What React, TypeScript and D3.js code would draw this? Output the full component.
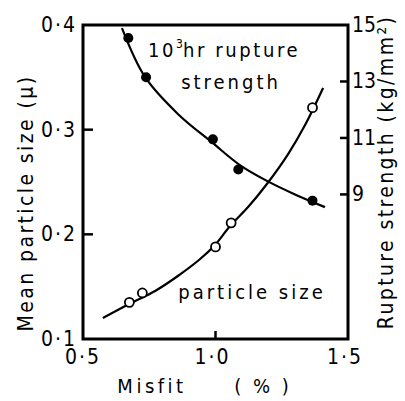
import { useEffect, useRef } from 'react';
import * as d3 from 'd3';

// misfit (%) vs. mean particle size (μ) — open circles
const sizeMisfit = [0.675, 0.724, 1.0, 1.059, 1.366];
const sizeValues = [0.135, 0.144, 0.188, 0.211, 0.321];
// misfit (%) vs. 10^3 hr rupture strength (kg/mm²) — filled dots
const strengthMisfit = [0.671, 0.738, 0.99, 1.086, 1.366];
const strengthValues = [14.54, 13.15, 10.95, 9.88, 8.78];

// fitted curves as drawn in the figure
const sizeCurveX = [0.575, 0.674, 0.772, 0.858, 0.942, 0.998, 1.055, 1.123, 1.194, 1.274, 1.338, 1.406];
const sizeCurveY = [0.12, 0.1334, 0.1459, 0.1602, 0.1764, 0.1898, 0.208, 0.2261, 0.2481, 0.2767, 0.3044, 0.3398];
const strCurveX = [0.647, 0.734, 0.858, 0.987, 1.092, 1.194, 1.3, 1.413];
const strCurveY = [14.89, 13.16, 11.85, 10.84, 10.04, 9.48, 9.0, 8.55];

const xTicks = [0.5, 1.0, 1.5];
const xTickLabels = ['0·5', '1·0', '1·5'];
const leftTicks = [0.1, 0.2, 0.3, 0.4];
const leftTickLabels = ['0·1', '0·2', '0·3', '0·4'];
const rightTicks = [9, 11, 13, 15];
const rightTickLabels = ['9', '11', '13', '15'];

const W = 405;
const H = 401;
const FONT = "'DejaVu Sans Condensed', 'Liberation Sans Narrow', 'Liberation Sans', sans-serif";

export default function App() {
  const svgRef = useRef<SVGSVGElement>(null);

  useEffect(() => {
    const svg = d3.select(svgRef.current);
    svg.selectAll('*').remove();

    const x = d3.scaleLinear().domain([0.5, 1.5]).range([83, 348]);
    const yL = d3.scaleLinear().domain([0.1, 0.4]).range([339, 25]);
    const yR = d3.scaleLinear().domain([3.88, 15]).range([339, 25]);

    const ink = '#000';

    // frame
    svg.append('rect')
      .attr('x', x(0.5)).attr('y', yL(0.4))
      .attr('width', x(1.5) - x(0.5)).attr('height', yL(0.1) - yL(0.4))
      .attr('fill', 'none').attr('stroke', ink).attr('stroke-width', 3);

    // ticks
    svg.selectAll('.lt').data(leftTicks.slice(1, 3)).join('line')
      .attr('x1', x(0.5)).attr('x2', x(0.5) + 10)
      .attr('y1', d => yL(d)).attr('y2', d => yL(d))
      .attr('stroke', ink).attr('stroke-width', 2.5);
    svg.selectAll('.rt').data(rightTicks.slice(0, 3)).join('line')
      .attr('x1', x(1.5)).attr('x2', x(1.5) - 8)
      .attr('y1', d => yR(d)).attr('y2', d => yR(d))
      .attr('stroke', ink).attr('stroke-width', 2.5);
    svg.append('line')
      .attr('x1', x(1.0)).attr('x2', x(1.0))
      .attr('y1', yL(0.1)).attr('y2', yL(0.1) - 8)
      .attr('stroke', ink).attr('stroke-width', 2.5);

    const label = (t: string, px: number, py: number, size: number, anchor = 'middle', spacing = 0) =>
      svg.append('text')
        .attr('x', px).attr('y', py)
        .attr('text-anchor', anchor)
        .attr('font-family', FONT)
        .attr('font-size', size)
        .attr('letter-spacing', spacing)
        .attr('fill', ink)
        .text(t);

    leftTicks.forEach((v, i) => label(leftTickLabels[i], x(0.5) - 6, yL(v) + 7, 21, 'end', 2));
    rightTicks.forEach((v, i) => label(rightTickLabels[i], x(1.5) + 4, yR(v) + 7, 21, 'start'));
    xTicks.forEach((v, i) => label(xTickLabels[i], x(v) - (i === 0 ? 0 : 3), 364, 21, 'middle', 2));

    label('Misfit', 152, 393, 20, 'middle', 3.5);
    label('( % )', 263, 393, 20, 'middle', 3);

    svg.append('text')
      .attr('transform', 'translate(33,203) rotate(-90)')
      .attr('text-anchor', 'middle')
      .attr('font-family', FONT).attr('font-size', 21).attr('letter-spacing', 2.4)
      .text('Mean particle size  (μ)');
    svg.append('text')
      .attr('transform', 'translate(393,172) rotate(-90)')
      .attr('text-anchor', 'middle')
      .attr('font-family', FONT).attr('font-size', 21).attr('letter-spacing', 2.4)
      .text('Rupture  strength (kg/mm²)');

    // annotations
    const t1 = svg.append('text')
      .attr('x', 148).attr('y', 57)
      .attr('font-family', FONT).attr('font-size', 20).attr('letter-spacing', 2.6);
    t1.append('tspan').text('10');
    t1.append('tspan').attr('dy', -9).attr('font-size', 12).attr('letter-spacing', 0).text('3');
    t1.append('tspan').attr('dy', 9).text('hr rupture');
    label('strength', 231, 89, 20, 'middle', 3);
    label('particle size', 252, 299, 20, 'middle', 3);

    // curves
    const line = d3.line<[number, number]>().curve(d3.curveCatmullRom.alpha(0.5));
    const sizePts = sizeCurveX.map((v, i) => [x(v), yL(sizeCurveY[i])] as [number, number]);
    const strPts = strCurveX.map((v, i) => [x(v), yR(strCurveY[i])] as [number, number]);
    svg.append('path').attr('d', line(sizePts)).attr('fill', 'none').attr('stroke', ink).attr('stroke-width', 2.2);
    svg.append('path').attr('d', line(strPts)).attr('fill', 'none').attr('stroke', ink).attr('stroke-width', 2.2);

    // points
    svg.selectAll('.op').data(sizeMisfit).join('circle')
      .attr('cx', d => x(d)).attr('cy', (_, i) => yL(sizeValues[i]))
      .attr('r', 4.5).attr('fill', '#fff').attr('stroke', ink).attr('stroke-width', 1.8);
    svg.selectAll('.fp').data(strengthMisfit).join('circle')
      .attr('cx', d => x(d)).attr('cy', (_, i) => yR(strengthValues[i]))
      .attr('r', 5).attr('fill', ink);
  }, []);

  return (
    <svg
      ref={svgRef}
      width={W}
      height={H}
      style={{ position: 'absolute', left: 0, top: 0, background: '#fff' }}
    />
  );
}
